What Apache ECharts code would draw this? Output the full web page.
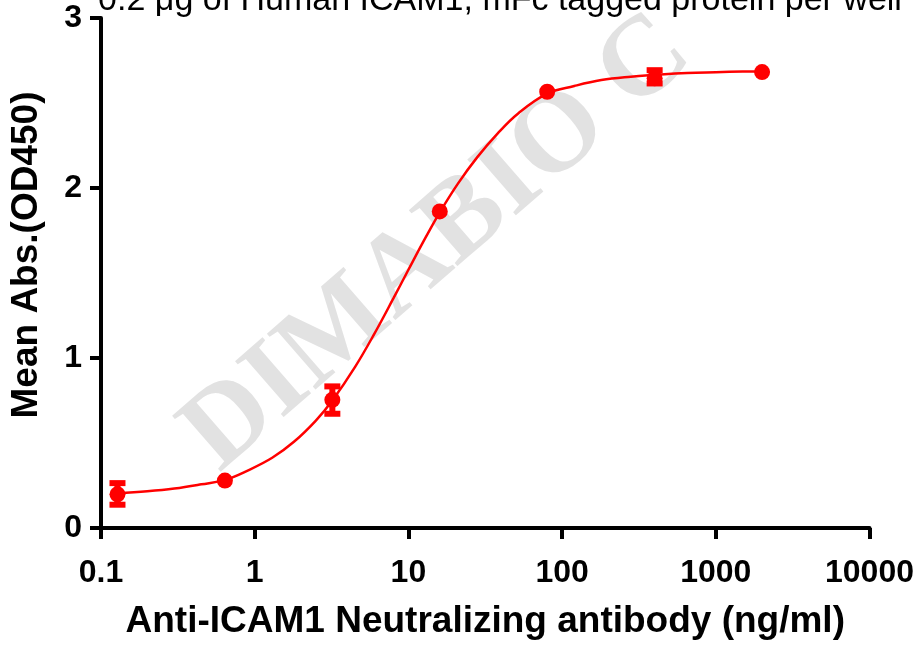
<!DOCTYPE html>
<html>
<head>
<meta charset="utf-8">
<script src="https://cdn.jsdelivr.net/npm/echarts@6.0.0/dist/echarts.min.js"></script>
<style>
html,body{margin:0;padding:0;background:#fff;}
#chart{width:917px;height:645px;}
</style>
</head>
<body>
<div id="chart"></div>
<script>
// ---- data ----
const titleText = '0.2 \u03bcg of Human ICAM1, mFc tagged protein per well';
const xAxisTitle = 'Anti-ICAM1 Neutralizing antibody (ng/ml)';
const yAxisTitle = 'Mean Abs.(OD450)';
const watermarkText = 'DIMABIO C';

const xTickLabels = ['0.1', '1', '10', '100', '1000', '10000'];
const yTickLabels = ['0', '1', '2', '3'];

// measured points (concentration, mean OD450)
const concentrations = [0.128, 0.64, 3.2, 16, 80, 400, 2000];
const meanOD = [0.198, 0.279, 0.754, 1.862, 2.566, 2.645, 2.682];
const errLow = [0.137, 0.279, 0.672, 1.862, 2.566, 2.615, 2.682];
const errHigh = [0.264, 0.279, 0.833, 1.862, 2.566, 2.693, 2.682];

// fitted curve
const curveX = [0.128, 0.2, 0.3, 0.45, 0.64, 0.9, 1.3, 1.8, 2.5, 3.2, 4.5, 6, 8, 10, 13, 16, 21, 28, 38, 52, 80, 120, 180, 280, 400, 650, 1000, 1500, 2000];
const curveY = [0.205, 0.216, 0.232, 0.257, 0.283, 0.338, 0.413, 0.507, 0.632, 0.750, 0.948, 1.142, 1.352, 1.519, 1.712, 1.857, 2.026, 2.180, 2.320, 2.440, 2.555, 2.600, 2.635, 2.655, 2.665, 2.676, 2.681, 2.685, 2.686];

// ---- build ----
const RED = '#ff0000';
const curveData = curveX.map((x, i) => [x, curveY[i]]);
const pointData = concentrations.map((x, i) => [x, meanOD[i]]);
const errData = concentrations
  .map((x, i) => [x, errLow[i], errHigh[i]])
  .filter(d => d[2] > d[1]);

const chart = echarts.init(document.getElementById('chart'), null, {renderer: 'canvas'});

const option = {
  backgroundColor: '#ffffff',
  animation: false,
  grid: {left: 98, right: 41, top: 18, bottom: 106, containLabel: false},
  graphic: [
    {
      type: 'text',
      z: 1,
      x: 200, y: 451,
      rotation: 41 * Math.PI / 180,
      silent: true,
      style: {
        text: watermarkText,
        font: 'bold 113px "Liberation Serif", "Times New Roman", serif',
        fill: '#e2e2e2',
        align: 'left', verticalAlign: 'middle',
        textAlign: 'left', textVerticalAlign: 'middle'
      }
    },
    {
      type: 'text',
      z: 5,
      x: 500, y: 1,
      silent: true,
      style: {
        text: titleText,
        font: 'normal 34px "Liberation Sans", Arial, sans-serif',
        fill: '#000000',
        align: 'center', verticalAlign: 'middle',
        textAlign: 'center', textVerticalAlign: 'middle'
      }
    }
  ],
  xAxis: {
    type: 'log',
    logBase: 10,
    min: 0.1,
    max: 10000,
    name: xAxisTitle,
    nameLocation: 'middle',
    nameGap: 75,
    nameTextStyle: {
      fontFamily: '"Liberation Sans", Arial, sans-serif',
      fontWeight: 'bold', fontSize: 37, color: '#000'
    },
    axisLine: {show: true, onZero: false, lineStyle: {color: '#000', width: 4}},
    axisTick: {show: true, length: 11, lineStyle: {color: '#000', width: 4}},
    minorTick: {show: false},
    splitLine: {show: false},
    axisLabel: {
      margin: 29,
      fontFamily: '"Liberation Sans", Arial, sans-serif',
      fontWeight: 'bold', fontSize: 32, color: '#000',
      formatter: function (v) {
        const idx = Math.round(Math.log10(v)) + 1;
        return xTickLabels[idx] !== undefined ? xTickLabels[idx] : '';
      }
    }
  },
  yAxis: {
    type: 'value',
    min: 0,
    max: 3,
    interval: 1,
    name: yAxisTitle,
    nameLocation: 'middle',
    nameGap: 56,
    nameTextStyle: {
      fontFamily: '"Liberation Sans", Arial, sans-serif',
      fontWeight: 'bold', fontSize: 37, color: '#000',
      padding: [0, 0, 0, 36]
    },
    axisLine: {show: true, lineStyle: {color: '#000', width: 4}},
    axisTick: {show: true, length: 11, lineStyle: {color: '#000', width: 4}},
    splitLine: {show: false},
    axisLabel: {
      margin: 19,
      fontFamily: '"Liberation Sans", Arial, sans-serif',
      fontWeight: 'bold', fontSize: 32, color: '#000',
      formatter: function (v) {
        const idx = Math.round(v);
        return yTickLabels[idx] !== undefined ? yTickLabels[idx] : '';
      }
    }
  },
  series: [
    {
      name: 'fit',
      type: 'line',
      data: curveData,
      smooth: 0.4,
      showSymbol: false,
      symbol: 'none',
      z: 3,
      lineStyle: {color: RED, width: 2.5},
      silent: true
    },
    {
      name: 'error',
      type: 'custom',
      data: errData,
      encode: {x: 0, y: [1, 2]},
      z: 4,
      silent: true,
      renderItem: function (params, api) {
        const x = api.value(0), lo = api.value(1), hi = api.value(2);
        const pLo = api.coord([x, lo]);
        const pHi = api.coord([x, hi]);
        const hw = 8;
        const capStyle = {stroke: RED, lineWidth: 6};
        return {
          type: 'group',
          children: [
            {type: 'line', shape: {x1: pLo[0], y1: pLo[1], x2: pHi[0], y2: pHi[1]}, style: {stroke: RED, lineWidth: 6}},
            {type: 'line', shape: {x1: pLo[0] - hw, y1: pLo[1], x2: pLo[0] + hw, y2: pLo[1]}, style: capStyle},
            {type: 'line', shape: {x1: pHi[0] - hw, y1: pHi[1], x2: pHi[0] + hw, y2: pHi[1]}, style: capStyle}
          ]
        };
      }
    },
    {
      name: 'mean',
      type: 'scatter',
      data: pointData,
      symbol: 'circle',
      symbolSize: 16,
      z: 5,
      itemStyle: {color: RED, opacity: 1},
      silent: true
    }
  ]
};
chart.setOption(option);
</script>
</body>
</html>
